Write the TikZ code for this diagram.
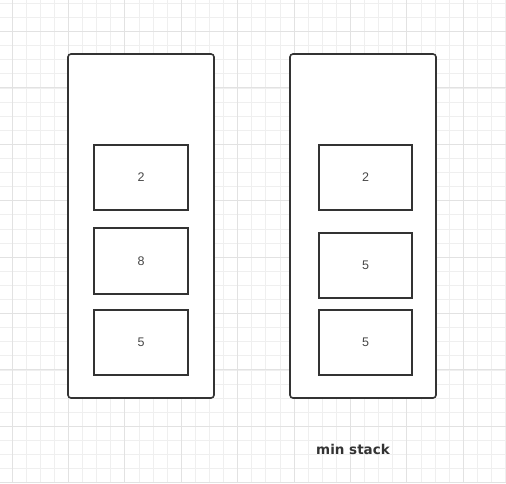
\documentclass[tikz,border=0pt]{standalone}
\usepackage{fontspec}
\setmainfont{Liberation Sans}
\newfontfamily\labelfont{DejaVu Sans}
\definecolor{gridminor}{HTML}{EFEFEF}
\definecolor{gridmajor}{HTML}{E2E2E2}
\definecolor{edge}{HTML}{333333}
\begin{document}
\begin{tikzpicture}[x=1pt,y=-1pt,
  stackbox/.style={draw=edge,line width=1.6pt,rounded corners=3pt,fill=white},
  cell/.style={draw=edge,line width=1.6pt,fill=white,font=\fontsize{12.5}{15}\selectfont,text=edge!90}]
\useasboundingbox (0,0) rectangle (506,483);
\fill[white] (0,0) rectangle (506,483);
% grid
\foreach \k in {0,...,35} {
  \draw[gridminor,line width=0.8pt] ({12+14.1*\k},0) -- ({12+14.1*\k},483);
}
\foreach \k in {-2,...,32} {
  \draw[gridminor,line width=0.8pt] (0,{31.5+14.1*\k}) -- (506,{31.5+14.1*\k});
}
\foreach \k in {0,...,8} {
  \draw[gridmajor,line width=0.9pt] ({12+56.4*\k},0) -- ({12+56.4*\k},483);
}
\foreach \k in {0,...,8} {
  \draw[gridmajor,line width=0.9pt] (0,{31.5+56.4*\k}) -- (506,{31.5+56.4*\k});
}
% left stack
\draw[stackbox] (68,54) rectangle (214,398);
\node[cell,minimum width=94pt,minimum height=65pt] (l1) at (141,177.5) {2};
\node[cell,minimum width=94pt,minimum height=66pt] (l2) at (141,261) {8};
\node[cell,minimum width=94pt,minimum height=65pt] (l3) at (141,342.5) {5};
% right stack
\draw[stackbox] (290,54) rectangle (436,398);
\node[cell,minimum width=93pt,minimum height=65pt] (r1) at (365.5,177.5) {2};
\node[cell,minimum width=93pt,minimum height=65pt] (r2) at (365.5,265.5) {5};
\node[cell,minimum width=93pt,minimum height=65pt] (r3) at (365.5,342.5) {5};
\node[font=\labelfont\bfseries\fontsize{13.5}{16}\selectfont,text=edge] (cap) at (353,449) {min stack};
\end{tikzpicture}
\end{document}
